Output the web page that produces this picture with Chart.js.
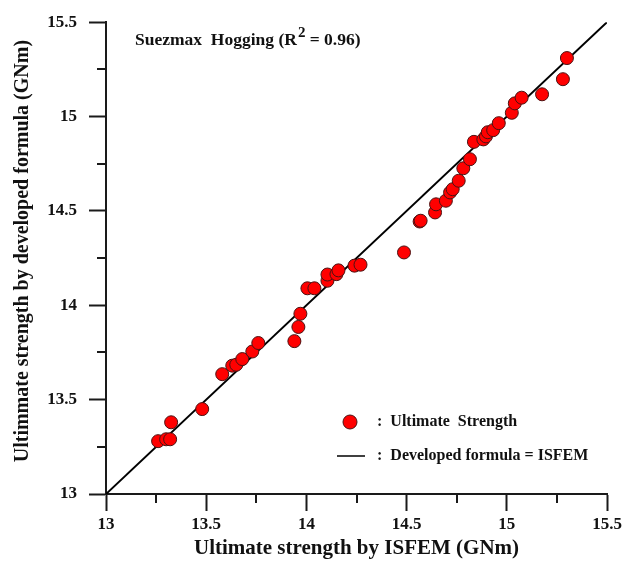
<!DOCTYPE html>
<html>
<head>
<meta charset="utf-8">
<script src="https://cdn.jsdelivr.net/npm/chart.js@4/dist/chart.umd.min.js"></script>
<style>
  html, body { margin: 0; padding: 0; background: #fff; }
  #c { display: block; }
</style>
</head>
<body>
<canvas id="c" width="635" height="574"></canvas>
<script>
// Ultimate hogging strength of the Suezmax hull girder (GNm)
const isfemStrength = [
  13.26, 13.30, 13.32, 13.325, 13.48, 13.58, 13.63, 13.65, 13.68, 13.73,
  13.76, 13.94, 13.96, 13.97, 14.005, 14.04, 14.105, 14.105, 14.15, 14.16,
  14.24, 14.27, 14.487, 14.565, 14.57, 14.642, 14.647, 14.696, 14.717, 14.73,
  14.76, 14.783, 14.816, 14.836, 14.883, 14.896, 14.905, 14.932, 14.96, 15.025,
  15.04, 15.074, 15.176, 15.28, 15.30
];
const formulaStrength = [
  13.28, 13.29, 13.29, 13.38, 13.45, 13.635, 13.68, 13.685, 13.715, 13.755,
  13.80, 13.81, 13.885, 13.955, 14.09, 14.09, 14.13, 14.163, 14.165, 14.185,
  14.21, 14.215, 14.28, 14.444, 14.448, 14.492, 14.535, 14.554, 14.598, 14.615,
  14.66, 14.726, 14.774, 14.866, 14.879, 14.895, 14.917, 14.928, 14.965, 15.02,
  15.07, 15.10, 15.118, 15.198, 15.31
];
// Equality line: developed formula = ISFEM
const equalityLine = [13, 15.5];

const axisRange = [13, 15.5];
const majorStep = 0.5;
const minorTicks = [13.25, 13.75, 14.25, 14.75, 15.25];

const titleMain = 'Suezmax  Hogging (R';
const titleSup = '2';
const titleTail = ' = 0.96)';
const xTitle = 'Ultimate strength by ISFEM (GNm)';
const yTitle = 'Ultimmate strength by developed formula (GNm)';
const legendLabels = [':  Ultimate  Strength', ':  Developed formula = ISFEM'];

const serif = "'Liberation Serif', 'Times New Roman', serif";
const ink = '#1a1a1a';

const decor = {
  id: 'decor',
  afterDraw(chart) {
    const { ctx, chartArea: a, scales: { x, y } } = chart;
    ctx.save();

    // minor ticks
    ctx.strokeStyle = ink;
    ctx.lineWidth = 2;
    minorTicks.forEach(v => {
      const px = Math.round(x.getPixelForValue(v));
      ctx.beginPath(); ctx.moveTo(px, a.bottom); ctx.lineTo(px, a.bottom + 9); ctx.stroke();
      const py = Math.round(y.getPixelForValue(v));
      ctx.beginPath(); ctx.moveTo(a.left, py); ctx.lineTo(a.left - 9, py); ctx.stroke();
    });

    ctx.fillStyle = '#111';

    // heading inside the plot
    ctx.textBaseline = 'alphabetic';
    ctx.textAlign = 'left';
    let tx = a.left + 29, ty = a.top + 23;
    ctx.font = `bold 17.5px ${serif}`;
    ctx.fillText(titleMain, tx, ty);
    tx += ctx.measureText(titleMain).width + 1;
    ctx.font = `bold 15px ${serif}`;
    ctx.fillText(titleSup, tx, ty - 8);
    tx += ctx.measureText(titleSup).width;
    ctx.font = `bold 17.5px ${serif}`;
    ctx.fillText(titleTail, tx, ty);

    // axis titles
    ctx.font = `bold 21px ${serif}`;
    ctx.textAlign = 'center';
    ctx.textBaseline = 'middle';
    ctx.fillText(xTitle, (a.left + a.right) / 2, a.bottom + 55);
    ctx.save();
    ctx.translate(23, (a.top + a.bottom) / 2 - 7);
    ctx.rotate(-Math.PI / 2);
    ctx.font = `bold 20px ${serif}`;
    ctx.fillText(yTitle, 0, 0);
    ctx.restore();

    // legend
    const pts = chart.data.datasets[0];
    const ln = chart.data.datasets[1];
    const lx = a.left + 244, ly1 = a.bottom - 72, ly2 = a.bottom - 38;
    ctx.beginPath();
    ctx.arc(lx, ly1, 7, 0, Math.PI * 2);
    ctx.fillStyle = pts.backgroundColor;
    ctx.fill();
    ctx.lineWidth = 1;
    ctx.strokeStyle = pts.borderColor;
    ctx.stroke();
    ctx.beginPath();
    ctx.moveTo(lx - 13, ly2); ctx.lineTo(lx + 15, ly2);
    ctx.lineWidth = 1.5;
    ctx.strokeStyle = ln.borderColor;
    ctx.stroke();
    ctx.fillStyle = '#111';
    ctx.font = `bold 16px ${serif}`;
    ctx.textAlign = 'left';
    ctx.textBaseline = 'middle';
    ctx.fillText(legendLabels[0], lx + 27, ly1);
    ctx.fillText(legendLabels[1], lx + 27, ly2);

    ctx.restore();
  }
};

const tickFont = { family: serif, size: 17, weight: 'bold' };
const tickText = v => String(Math.round(v * 10) / 10);

new Chart(document.getElementById('c'), {
  type: 'scatter',
  data: {
    datasets: [
      {
        label: 'Ultimate Strength',
        data: isfemStrength.map((v, i) => ({ x: v, y: formulaStrength[i] })),
        backgroundColor: '#ff0000',
        borderColor: '#4a1212',
        borderWidth: 1,
        pointRadius: 6.5,
        pointHoverRadius: 6.5,
        order: 1
      },
      {
        type: 'line',
        label: 'Developed formula = ISFEM',
        data: equalityLine.map(v => ({ x: v, y: v })),
        borderColor: '#000',
        borderWidth: 2,
        pointRadius: 0,
        fill: false,
        order: 2
      }
    ]
  },
  options: {
    responsive: false,
    animation: false,
    devicePixelRatio: 1,
    layout: { padding: { left: 0, right: 28, top: 14, bottom: 0 } },
    plugins: { legend: { display: false }, tooltip: { enabled: false } },
    scales: {
      x: {
        type: 'linear',
        min: axisRange[0], max: axisRange[1],
        ticks: { stepSize: majorStep, autoSkip: false, maxRotation: 0, font: tickFont, color: '#111', padding: 3, callback: tickText },
        grid: { drawOnChartArea: false, drawTicks: true, tickLength: 17, tickWidth: 2, tickColor: ink },
        border: { color: ink, width: 2 },
        afterFit: s => { s.height = 80; }
      },
      y: {
        type: 'linear',
        min: axisRange[0], max: axisRange[1],
        ticks: { stepSize: majorStep, autoSkip: false, font: tickFont, color: '#111', padding: 12, callback: tickText },
        grid: { drawOnChartArea: false, drawTicks: true, tickLength: 17, tickWidth: 2, tickColor: ink },
        border: { color: ink, width: 2 },
        afterFit: s => { s.width = 106; }
      }
    }
  },
  plugins: [decor]
});
</script>
</body>
</html>
